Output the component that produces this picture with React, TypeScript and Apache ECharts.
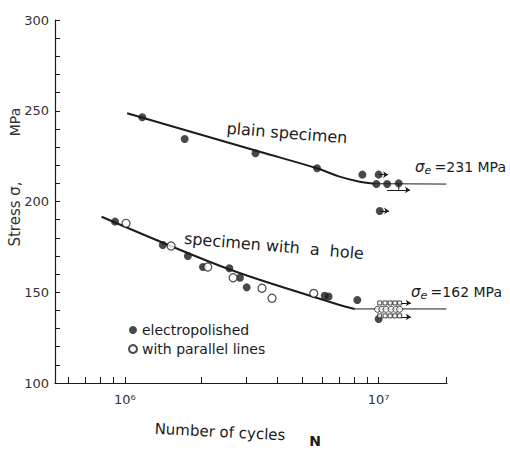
import React, { useEffect, useRef } from "react";
import * as echarts from "echarts";

// Axis ticks / labels
const xTickValues = [6e5, 7e5, 8e5, 9e5, 1e6, 2e6, 3e6, 4e6, 5e6, 6e6, 7e6, 8e6, 9e6, 1e7, 1.85e7];
const xLabelValues = [1e6, 1e7];
const yLabelValues = [100, 150, 200, 250, 300];

// Fitted S-N curves [N, stress MPa]
const plainCurve = [[1.02e6, 248.6], [3.4e6, 227.4], [5.71e6, 218.3], [7.02e6, 213.7], [8.41e6, 210.9], [9.64e6, 209.8]];
const plainLimit = [[9.64e6, 209.8], [1.85e7, 209.6]];
const holeCurve = [[8.09e5, 191.6], [2.59e6, 162.5], [7.02e6, 143.0], [8.05e6, 140.8]];
const holeLimit = [[8.05e6, 140.8], [1.85e7, 140.8]];

// Test points
const plainPolished = [[1.17e6, 246.4], [1.72e6, 234.4], [3.27e6, 226.6], [5.72e6, 218.3], [8.63e6, 214.8], [1.0e7, 214.8], [9.8e6, 209.6], [1.08e7, 209.6], [1.2e7, 210.0], [1.01e7, 194.8]];
const holePolished = [[9.14e5, 188.9], [1.41e6, 176.0], [1.77e6, 170.0], [2.03e6, 163.9], [2.58e6, 163.2], [2.84e6, 158.0], [3.02e6, 152.7], [6.13e6, 148.1], [6.35e6, 147.7], [8.24e6, 145.7], [1.0e7, 135.3]];
const holeParallel = [[1.01e6, 188.0], [1.52e6, 175.5], [2.12e6, 163.9], [2.67e6, 158.0], [3.47e6, 152.2], [3.8e6, 146.7], [5.55e6, 149.4]];

// Run-outs near the fatigue limit
const runoutSmall = [
  [1.01e7, 144.1], [1.06e7, 144.1], [1.11e7, 144.1], [1.16e7, 144.1], [1.21e7, 144.1],
  [1.01e7, 137.0], [1.06e7, 137.0], [1.11e7, 137.0], [1.16e7, 137.0], [1.21e7, 137.0],
];
const runoutOpen = [[9.9e6, 140.6], [1.03e7, 140.6], [1.07e7, 140.6], [1.12e7, 140.6], [1.17e7, 140.6], [1.21e7, 140.6]];
const runoutArrows = [
  [[1.0e7, 214.8], [1.09e7, 214.8]],
  [[1.01e7, 194.8], [1.1e7, 194.8]],
  [[1.08e7, 206.4], [1.33e7, 206.4]],
  [[1.21e7, 144.1], [1.34e7, 144.1]],
  [[1.21e7, 136.4], [1.34e7, 136.4]],
];
const bracketTick = [[1.2e7, 210.0], [1.2e7, 206.4]];

const INK = "#1c1c1c";
const FONT = "DejaVu Sans";

export default function App() {
  const ref = useRef<HTMLDivElement>(null);

  useEffect(() => {
    document.body.style.margin = "0";
    const chart = echarts.init(ref.current!, null, { renderer: "svg" });
    const sigmaRich = {
      s: { fontFamily: FONT, fontSize: 15, fill: INK, fontStyle: "italic" },
      e: { fontFamily: FONT, fontSize: 11, fill: INK, fontStyle: "italic", padding: [6, 0, 0, 0] },
      t: { fontFamily: FONT, fontSize: 14, fill: INK },
    };
    chart.setOption({
      animation: false,
      backgroundColor: "#ffffff",
      grid: { left: 55, right: 63, top: 20, bottom: 67 },
      legend: {
        orient: "vertical",
        left: 123,
        top: 318,
        itemWidth: 8,
        itemHeight: 8,
        itemGap: 5,
        data: ["electropolished", "with parallel lines"],
        textStyle: { fontFamily: FONT, fontSize: 14, color: INK },
      },
      xAxis: {
        type: "log",
        logBase: 10,
        min: 5.3e5,
        max: 1.86e7,
        axisLine: { lineStyle: { color: INK, width: 1.2 } },
        axisTick: { inside: true, length: 6, customValues: xTickValues, lineStyle: { color: INK } },
        axisLabel: {
          customValues: xLabelValues,
          margin: 10,
          fontFamily: FONT,
          fontSize: 13,
          color: "#333",
          formatter: (v: number) => (v < 5e6 ? "10⁶" : "10⁷"),
        },
        splitLine: { show: false },
        minorTick: { show: false },
      },
      yAxis: {
        type: "value",
        min: 100,
        max: 300,
        interval: 10,
        axisLine: { show: true, lineStyle: { color: INK, width: 1.2 } },
        axisTick: { inside: true, length: 5, lineStyle: { color: INK } },
        axisLabel: {
          customValues: yLabelValues,
          margin: 6,
          fontFamily: FONT,
          fontSize: 13,
          color: "#333",
        },
        splitLine: { show: false },
      },
      graphic: [
        {
          type: "text", x: 287, y: 133, rotation: -0.08,
          style: { text: "plain specimen", font: `16px "${FONT}"`, fill: INK, align: "center", verticalAlign: "middle" },
        },
        {
          type: "text", x: 274, y: 246, rotation: -0.085,
          style: { text: "specimen with  a  hole", font: `16px "${FONT}"`, fill: INK, align: "center", verticalAlign: "middle" },
        },
        {
          type: "text", x: 415, y: 167,
          style: { text: "{s|σ}{e|e} {t|=231 MPa}", rich: sigmaRich, align: "left", verticalAlign: "middle" },
        },
        {
          type: "text", x: 411, y: 292,
          style: { text: "{s|σ}{e|e} {t|=162 MPa}", rich: sigmaRich, align: "left", verticalAlign: "middle" },
        },
        {
          type: "text", x: 15, y: 214, rotation: Math.PI / 2,
          style: { text: "Stress σ,", font: `15px "${FONT}"`, fill: "#333", align: "center", verticalAlign: "middle" },
        },
        {
          type: "text", x: 15, y: 122, rotation: Math.PI / 2,
          style: { text: "MPa", font: `14px "${FONT}"`, fill: "#333", align: "center", verticalAlign: "middle" },
        },
        {
          type: "text", x: 220, y: 432, rotation: -0.05,
          style: { text: "Number of cycles", font: `15px "${FONT}"`, fill: INK, align: "center", verticalAlign: "middle" },
        },
        {
          type: "text", x: 315, y: 441,
          style: { text: "N", font: `bold 14px "${FONT}"`, fill: INK, align: "center", verticalAlign: "middle" },
        },
      ],
      series: [
        { type: "line", data: plainCurve, smooth: 0.4, showSymbol: false, lineStyle: { color: INK, width: 2 }, z: 2 },
        { type: "line", data: plainLimit, showSymbol: false, lineStyle: { color: INK, width: 1 }, z: 2 },
        { type: "line", data: holeCurve, smooth: 0.3, showSymbol: false, lineStyle: { color: INK, width: 2 }, z: 2 },
        { type: "line", data: holeLimit, showSymbol: false, lineStyle: { color: INK, width: 1 }, z: 2 },
        { type: "line", data: bracketTick, showSymbol: false, lineStyle: { color: INK, width: 1 }, z: 2 },
        {
          type: "lines",
          coordinateSystem: "cartesian2d",
          data: runoutArrows.map((c) => ({ coords: c })),
          symbol: ["none", "arrow"],
          symbolSize: 5,
          lineStyle: { color: INK, width: 1, opacity: 1 },
          z: 3,
        },
        {
          name: "electropolished",
          type: "scatter",
          data: [...plainPolished, ...holePolished],
          symbol: "circle",
          symbolSize: 8,
          itemStyle: { color: INK },
          z: 4,
        },
        {
          name: "with parallel lines",
          type: "scatter",
          data: holeParallel,
          symbol: "circle",
          symbolSize: 8,
          itemStyle: { color: "#ffffff", borderColor: INK, borderWidth: 1.2 },
          z: 5,
        },
        {
          type: "scatter",
          data: runoutOpen,
          symbol: "circle",
          symbolSize: 6,
          itemStyle: { color: "#ffffff", borderColor: INK, borderWidth: 1 },
          z: 5,
        },
        {
          type: "scatter",
          data: runoutSmall,
          symbol: "rect",
          symbolSize: 4,
          itemStyle: { color: "#ffffff", borderColor: INK, borderWidth: 1 },
          z: 5,
        },
      ],
    });
    return () => chart.dispose();
  }, []);

  return <div ref={ref} style={{ width: 510, height: 450 }} />;
}
